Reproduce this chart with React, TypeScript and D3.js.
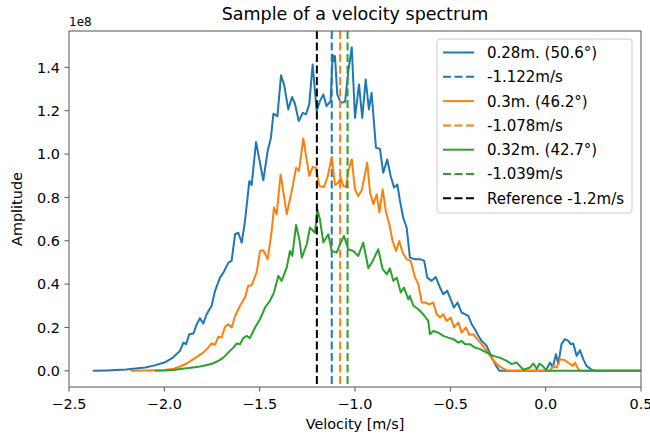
import React from "react";
import * as d3 from "d3";

// ---- data (amplitude in units of 1e8) ----
const blueV = [-2.37,-2.3,-2.2,-2.1,-2.05,-2.0,-1.955,-1.918,-1.9,-1.886,-1.869,-1.848,-1.83,-1.813,-1.796,-1.778,-1.752,-1.734,-1.708,-1.69,-1.664,-1.647,-1.629,-1.612,-1.594,-1.577,-1.554,-1.542,-1.519,-1.481,-1.458,-1.441,-1.428,-1.407,-1.388,-1.371,-1.35,-1.33,-1.315,-1.295,-1.274,-1.257,-1.24,-1.222,-1.201,-1.184,-1.166,-1.149,-1.128,-1.117,-1.11,-1.105,-1.093,-1.075,-1.052,-1.035,-1.017,-1.0,-0.979,-0.962,-0.944,-0.927,-0.913,-0.89,-0.869,-0.852,-0.831,-0.813,-0.795,-0.778,-0.764,-0.747,-0.729,-0.712,-0.685,-0.659,-0.637,-0.621,-0.598,-0.577,-0.554,-0.537,-0.516,-0.498,-0.481,-0.462,-0.441,-0.406,-0.388,-0.371,-0.353,-0.336,-0.309,-0.283,-0.26,-0.243,0.0,0.023,0.037,0.054,0.066,0.083,0.101,0.119,0.131,0.145,0.162,0.18,0.197,0.214,0.241,0.26,0.5];
const blueA = [0,0.002,0.006,0.015,0.025,0.038,0.061,0.092,0.13,0.123,0.169,0.172,0.215,0.243,0.218,0.261,0.3,0.369,0.43,0.453,0.499,0.507,0.63,0.637,0.591,0.691,0.876,0.857,1.055,0.879,1.014,1.075,1.186,1.175,1.363,1.317,1.206,1.263,1.232,1.152,1.19,1.183,1.229,1.413,1.198,1.244,1.275,1.221,1.244,1.459,1.429,1.452,1.275,1.236,1.241,1.382,1.493,1.167,1.321,1.167,1.344,1.206,1.283,1.029,1.024,0.914,0.975,0.899,0.845,0.86,0.783,0.706,0.66,0.522,0.515,0.515,0.507,0.43,0.415,0.433,0.384,0.353,0.369,0.33,0.292,0.315,0.269,0.253,0.215,0.192,0.161,0.138,0.115,0.061,0.023,0,0,0.038,0.015,0.077,0.031,0.123,0.146,0.138,0.123,0.126,0.069,0.095,0.054,0.023,0.005,0,0];

const orangeV = [-2.171,-2.1,-2.0,-1.95,-1.918,-1.88,-1.848,-1.82,-1.796,-1.77,-1.752,-1.734,-1.717,-1.699,-1.682,-1.664,-1.647,-1.629,-1.603,-1.577,-1.56,-1.542,-1.516,-1.498,-1.481,-1.458,-1.437,-1.425,-1.411,-1.39,-1.358,-1.332,-1.309,-1.294,-1.271,-1.24,-1.222,-1.205,-1.187,-1.163,-1.145,-1.122,-1.105,-1.088,-1.075,-1.061,-1.047,-1.035,-1.017,-1.0,-0.983,-0.965,-0.948,-0.936,-0.921,-0.904,-0.886,-0.872,-0.855,-0.837,-0.82,-0.803,-0.785,-0.768,-0.75,-0.729,-0.708,-0.685,-0.668,-0.65,-0.633,-0.61,-0.589,-0.572,-0.554,-0.537,-0.519,-0.498,-0.481,-0.458,-0.441,-0.418,-0.401,-0.38,-0.359,-0.336,-0.309,-0.283,-0.257,-0.231,-0.205,-0.18,0.02,0.04,0.058,0.076,0.101,0.124,0.142,0.154,0.171,0.18,0.5];
const orangeA = [0,0.001,0.004,0.01,0.02,0.035,0.054,0.07,0.084,0.107,0.126,0.12,0.157,0.154,0.203,0.215,0.2,0.253,0.3,0.338,0.392,0.395,0.453,0.553,0.556,0.515,0.645,0.753,0.722,0.906,0.722,0.829,0.937,0.922,1.072,0.899,0.94,0.937,0.853,0.848,0.891,0.986,0.857,0.868,0.891,0.853,0.848,0.922,0.976,0.837,0.806,0.833,0.906,0.96,0.822,0.768,0.814,0.73,0.837,0.73,0.676,0.599,0.553,0.599,0.545,0.515,0.507,0.43,0.4,0.315,0.315,0.307,0.315,0.261,0.246,0.261,0.23,0.246,0.2,0.223,0.176,0.2,0.166,0.169,0.146,0.123,0.092,0.058,0.031,0.015,0.003,0,0,0.023,0.015,0.054,0.049,0.034,0.023,0.038,0.008,0,0];

const greenV = [-2.044,-2.0,-1.95,-1.918,-1.87,-1.813,-1.77,-1.743,-1.715,-1.69,-1.656,-1.638,-1.62,-1.603,-1.586,-1.568,-1.551,-1.524,-1.498,-1.472,-1.446,-1.425,-1.402,-1.385,-1.358,-1.341,-1.329,-1.309,-1.292,-1.279,-1.253,-1.236,-1.21,-1.198,-1.184,-1.166,-1.14,-1.122,-1.096,-1.079,-1.058,-1.035,-1.009,-0.983,-0.957,-0.93,-0.907,-0.878,-0.855,-0.833,-0.817,-0.799,-0.781,-0.76,-0.743,-0.72,-0.712,-0.694,-0.668,-0.642,-0.616,-0.607,-0.589,-0.563,-0.537,-0.511,-0.484,-0.458,-0.441,-0.423,-0.397,-0.371,-0.344,-0.309,-0.275,-0.24,-0.205,-0.178,-0.152,-0.117,-0.082,-0.064,-0.047,-0.033,-0.016,0.005,0.5];
const greenA = [0,0.001,0.004,0.008,0.013,0.02,0.028,0.035,0.047,0.061,0.092,0.107,0.126,0.123,0.151,0.161,0.151,0.2,0.238,0.292,0.323,0.361,0.438,0.415,0.476,0.553,0.53,0.673,0.607,0.522,0.584,0.661,0.637,0.745,0.699,0.592,0.63,0.553,0.545,0.584,0.622,0.56,0.553,0.53,0.592,0.473,0.507,0.561,0.469,0.445,0.473,0.415,0.43,0.361,0.384,0.33,0.346,0.3,0.284,0.261,0.23,0.169,0.184,0.176,0.161,0.153,0.146,0.13,0.138,0.123,0.123,0.107,0.1,0.084,0.069,0.061,0.046,0.031,0.038,0.005,0.015,0.034,0.008,0.034,0.023,0,0];

const seriesLabels = ["0.28m. (50.6°)", "0.3m. (46.2°)", "0.32m. (42.7°)"];
const peakVelocities = [-1.122, -1.078, -1.039];
const peakLabels = ["-1.122m/s", "-1.078m/s", "-1.039m/s"];
const referenceVelocity = -1.2;
const referenceLabel = "Reference -1.2m/s";
const xTicks = [-2.5, -2.0, -1.5, -1.0, -0.5, 0.0, 0.5];
const yTicks = [0, 0.2, 0.4, 0.6, 0.8, 1.0, 1.2, 1.4];
const colors = ["#1f77b4", "#ff7f0e", "#2ca02c"];

const W = 650, H = 436;
const M = { left: 69, top: 31, right: 9, bottom: 49 };
const FONT = "DejaVu Sans, Verdana, sans-serif";

export default function App() {
  const iw = W - M.left - M.right;
  const ih = H - M.top - M.bottom;
  const series = [
    { v: blueV, a: blueA },
    { v: orangeV, a: orangeA },
    { v: greenV, a: greenA },
  ];
  const maxA = d3.max(series.flatMap((s) => s.a)) as number;
  const pad = maxA * 0.05;
  const x = d3.scaleLinear().domain([-2.5, 0.5]).range([0, iw]);
  const y = d3.scaleLinear().domain([-pad, maxA + pad]).range([ih, 0]);
  const line = d3
    .line<[number, number]>()
    .x((d) => x(d[0]))
    .y((d) => y(d[1]));

  const legendItems: { color: string; dashed: boolean; label: string }[] = [];
  series.forEach((_, i) => {
    legendItems.push({ color: colors[i], dashed: false, label: seriesLabels[i] });
    legendItems.push({ color: colors[i], dashed: true, label: peakLabels[i] });
  });
  legendItems.push({ color: "#000", dashed: true, label: referenceLabel });

  const dash = "8,3.5";
  const lgX = 437, lgY = 39, lgW = 195, lgH = 174;

  return (
    <svg width={W} height={H} style={{ position: "absolute", left: 0, top: 0 }} fontFamily={FONT}>
      <rect width={W} height={H} fill="#fff" />
      <text x={355} y={20} textAnchor="middle" fontSize={17.5} fill="#000">
        Sample of a velocity spectrum
      </text>
      <g transform={`translate(${M.left},${M.top})`}>
        <defs>
          <clipPath id="clip">
            <rect width={iw} height={ih} />
          </clipPath>
        </defs>
        <g clipPath="url(#clip)">
          {series.map((s, i) => (
            <g key={i}>
              <path
                d={line(s.v.map((v, j) => [v, s.a[j]] as [number, number])) || ""}
                fill="none"
                stroke={colors[i]}
                strokeWidth={2}
                strokeLinejoin="round"
                strokeLinecap="square"
              />
              <line
                x1={x(peakVelocities[i])}
                x2={x(peakVelocities[i])}
                y1={0}
                y2={ih}
                stroke={colors[i]}
                strokeWidth={2}
                strokeDasharray={dash}
              />
            </g>
          ))}
          <line
            x1={x(referenceVelocity)}
            x2={x(referenceVelocity)}
            y1={0}
            y2={ih}
            stroke="#000"
            strokeWidth={2}
            strokeDasharray={dash}
          />
        </g>
        <rect width={iw} height={ih} fill="none" stroke="#555" strokeWidth={1} />
        {xTicks.map((t) => (
          <g key={t} transform={`translate(${x(t)},${ih})`}>
            <line y2={4.5} stroke="#555" />
            <text y={21.5} textAnchor="middle" fontSize={14.4} fill="#000">
              {t < 0 ? "\u2212" + Math.abs(t).toFixed(1) : t.toFixed(1)}
            </text>
          </g>
        ))}
        {yTicks.map((t) => (
          <g key={t} transform={`translate(0,${y(t)})`}>
            <line x2={-4.5} stroke="#555" />
            <text x={-9} dy="0.36em" textAnchor="end" fontSize={14.4} fill="#000">
              {t.toFixed(1)}
            </text>
          </g>
        ))}
        <text x={0} y={-5} fontSize={12} fill="#000">1e8</text>
        <text x={iw / 2} y={ih + 42} textAnchor="middle" fontSize={14.4} fill="#000">
          Velocity [m/s]
        </text>
        <text
          transform={`translate(${-47},${ih / 2}) rotate(-90)`}
          textAnchor="middle"
          fontSize={14.4}
          fill="#000"
        >
          Amplitude
        </text>
      </g>
      <g>
        <rect x={lgX} y={lgY} width={lgW} height={lgH} rx={3} fill="#fff" fillOpacity={0.8} stroke="#ccc" />
        {legendItems.map((it, i) => {
          const cy = lgY + 13.5 + i * 24.3;
          return (
            <g key={i}>
              <line
                x1={443}
                x2={474}
                y1={cy}
                y2={cy}
                stroke={it.color}
                strokeWidth={2}
                strokeDasharray={it.dashed ? "8,3.5" : undefined}
              />
              <text x={487} y={cy} dy="0.36em" fontSize={15} fill="#000">
                {it.label}
              </text>
            </g>
          );
        })}
      </g>
    </svg>
  );
}
